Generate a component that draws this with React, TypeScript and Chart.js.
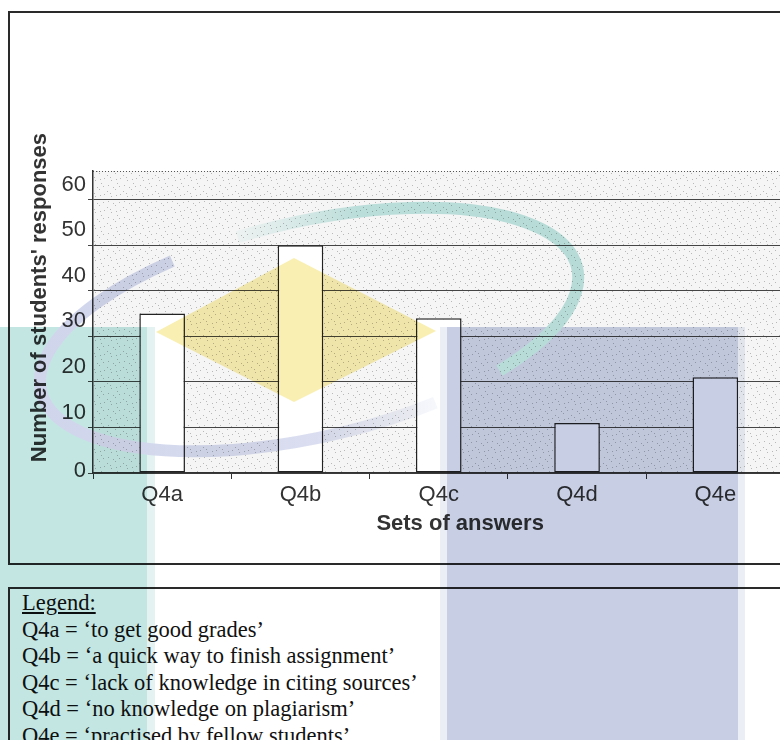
import React, { useEffect, useRef } from 'react';
import { Chart, registerables } from 'chart.js';

Chart.register(...registerables);

// Survey results: reasons students gave for plagiarising
const categories = ['Q4a', 'Q4b', 'Q4c', 'Q4d', 'Q4e'];
const responses = [35, 50, 34, 11, 21];
const yTickValues = [0, 10, 20, 30, 40, 50, 60];
const yMax = 66.3;

const yTitle = "        Number of students' responses";
const xTitle = '       Sets of answers';

const legendHeading = 'Legend:';
const legendLines = [
  'Q4a = \u2018to get good grades\u2019',
  'Q4b = \u2018a quick way to finish assignment\u2019',
  'Q4c = \u2018lack of knowledge in citing sources\u2019',
  'Q4d = \u2018no knowledge on plagiarism\u2019',
  'Q4e = \u2018practised by fellow students\u2019',
];

const SANS = '"Liberation Sans", Arial, Helvetica, sans-serif';
const SERIF = '"Liberation Serif", "Times New Roman", Times, serif';
const INK = '#333333';

// Sparse stipple of the plot area, like a printed Excel chart
const stippleDots: Array<[number, number]> = [
  [1, 2], [9, 0], [14, 5], [5, 7], [11, 10], [2, 12], [7, 14], [13, 13], [4, 4], [10, 6],
];

function stipplePattern(ctx: CanvasRenderingContext2D) {
  const tile = document.createElement('canvas');
  tile.width = 16;
  tile.height = 16;
  const t = tile.getContext('2d')!;
  t.fillStyle = '#f5f5f5';
  t.fillRect(0, 0, 16, 16);
  t.fillStyle = '#b8b8b8';
  stippleDots.forEach(([x, y]) => t.fillRect(x, y, 1, 1));
  return ctx.createPattern(tile, 'repeat')!;
}

const plotBackdrop = {
  id: 'plotBackdrop',
  beforeDraw(chart: any) {
    const { ctx, chartArea: a } = chart;
    ctx.save();
    ctx.fillStyle = stipplePattern(ctx);
    ctx.fillRect(a.left, a.top, a.right - a.left, a.bottom - a.top);
    ctx.setLineDash([1, 2]);
    ctx.strokeStyle = '#555';
    ctx.lineWidth = 1;
    ctx.beginPath();
    ctx.moveTo(a.left, a.top + 0.5);
    ctx.lineTo(a.right, a.top + 0.5);
    ctx.stroke();
    ctx.restore();
  },
};

// Faint logo stamped across the page
function ringPoint(t: number): [number, number] {
  const cx = 308, cy = 330, rx = 276, ry = 108, rot = (-13 * Math.PI) / 180;
  const a = (t * Math.PI) / 180;
  const x = rx * Math.cos(a);
  const y = ry * Math.sin(a);
  return [cx + x * Math.cos(rot) - y * Math.sin(rot), cy + x * Math.sin(rot) + y * Math.cos(rot)];
}

function ringArc(t1: number, t2: number) {
  const [x1, y1] = ringPoint(t1);
  const [x2, y2] = ringPoint(t2);
  const large = t2 - t1 > 180 ? 1 : 0;
  return `M ${x1.toFixed(1)} ${y1.toFixed(1)} A 276 108 -13 ${large} 1 ${x2.toFixed(1)} ${y2.toFixed(1)}`;
}

function Watermark() {
  return (
    <svg
      width={780}
      height={740}
      style={{ position: 'absolute', left: 0, top: 0, mixBlendMode: 'multiply', pointerEvents: 'none' }}
    >
      <defs>
        <linearGradient id="tealFade" x1="0" y1="0" x2="1" y2="0">
          <stop offset="0" stopColor="#d2eeeb" stopOpacity="0.2" />
          <stop offset="0.35" stopColor="#c2e7e3" stopOpacity="1" />
          <stop offset="1" stopColor="#bfe5e1" stopOpacity="1" />
        </linearGradient>
        <linearGradient id="blueFade" x1="0" y1="0" x2="1" y2="0">
          <stop offset="0" stopColor="#d0d5ec" stopOpacity="1" />
          <stop offset="0.7" stopColor="#d6daee" stopOpacity="0.9" />
          <stop offset="1" stopColor="#e2e5f3" stopOpacity="0.3" />
        </linearGradient>
      </defs>
      <rect x={0} y={327} width={147} height={413} fill="#c3e6e3" />
      <rect x={147} y={327} width={8} height={413} fill="#e4f3f2" />
      <rect x={440} y={327} width={7} height={413} fill="#eceef6" />
      <rect x={447} y={327} width={291} height={413} fill="#c8cfe4" />
      <rect x={738} y={327} width={7} height={413} fill="#eceef6" />
      <polygon points="294,258 436,331 294,402 156,332" fill="#f9efb2" />
      <path d={ringArc(-100, 50)} stroke="url(#tealFade)" strokeWidth={12} fill="none" />
      <path d={ringArc(67, 245)} stroke="url(#blueFade)" strokeWidth={12} fill="none" />
    </svg>
  );
}

function ResponsesChart() {
  const canvasRef = useRef<HTMLCanvasElement | null>(null);

  useEffect(() => {
    const canvas = canvasRef.current;
    if (!canvas) return;
    const chart = new Chart(canvas, {
      type: 'bar',
      data: {
        labels: categories,
        datasets: [
          {
            data: responses,
            backgroundColor: '#ffffff',
            borderColor: '#222222',
            borderWidth: 1.5,
            borderSkipped: false,
            barPercentage: 0.33,
            categoryPercentage: 1,
          },
        ],
      },
      options: {
        responsive: false,
        animation: false,
        devicePixelRatio: 1,
        layout: { padding: { top: 158, right: 15.5, bottom: 0, left: 0 } },
        plugins: {
          legend: { display: false },
          tooltip: { enabled: false },
        },
        scales: {
          x: {
            afterFit: (axis: any) => {
              axis.height = 90;
            },
            grid: { drawOnChartArea: false, drawTicks: true, tickLength: 6, color: INK, offset: true },
            border: { display: true, color: INK, width: 1.5 },
            ticks: { padding: 3, color: INK, autoSkip: false, font: { family: SANS, size: 22 } },
            title: {
              display: true,
              text: xTitle,
              color: INK,
              font: { family: SANS, size: 22, weight: 'bold' },
              padding: { top: 0, bottom: 26 },
            },
          },
          y: {
            min: 0,
            max: yMax,
            afterBuildTicks: (axis: any) => {
              axis.ticks = yTickValues.map((value) => ({ value }));
            },
            afterFit: (axis: any) => {
              axis.width = 83;
            },
            grid: { color: '#444444', lineWidth: 1, tickLength: 5, drawTicks: true },
            border: { display: true, color: INK, width: 1.5 },
            ticks: {
              autoSkip: false,
              labelOffset: -15,
              padding: 2,
              color: INK,
              font: { family: SANS, size: 22 },
              callback: (value: any) => (Number(value) === 0 ? ['', '0'] : String(value)),
            },
            title: {
              display: true,
              text: yTitle,
              color: INK,
              font: { family: SANS, size: 22, weight: 'bold' },
              padding: { top: 17, bottom: 0 },
            },
          },
        },
      },
      plugins: [plotBackdrop],
    });
    return () => chart.destroy();
  }, []);

  return <canvas ref={canvasRef} width={790} height={550} style={{ display: 'block', position: 'absolute', left: 0, top: 0 }} />;
}

export default function App() {
  return (
    <div style={{ position: 'fixed', left: 0, top: 0, width: 780, height: 740, overflow: 'hidden', background: '#ffffff' }}>
      <div
        style={{
          position: 'absolute',
          left: 8,
          top: 11,
          width: 800,
          height: 554,
          border: '2px solid #2a2a2a',
          boxSizing: 'border-box',
        }}
      >
        <ResponsesChart />
      </div>
      <div
        style={{
          position: 'absolute',
          left: 8,
          top: 587,
          width: 800,
          height: 200,
          border: '2px solid #2a2a2a',
          boxSizing: 'border-box',
          padding: '1px 0 0 12px',
          fontFamily: SERIF,
          fontSize: 22.5,
          lineHeight: '26.5px',
          color: '#111',
        }}
      >
        <div style={{ textDecoration: 'underline' }}>{legendHeading}</div>
        {legendLines.map((line) => (
          <div key={line}>{line}</div>
        ))}
      </div>
      <Watermark />
    </div>
  );
}
